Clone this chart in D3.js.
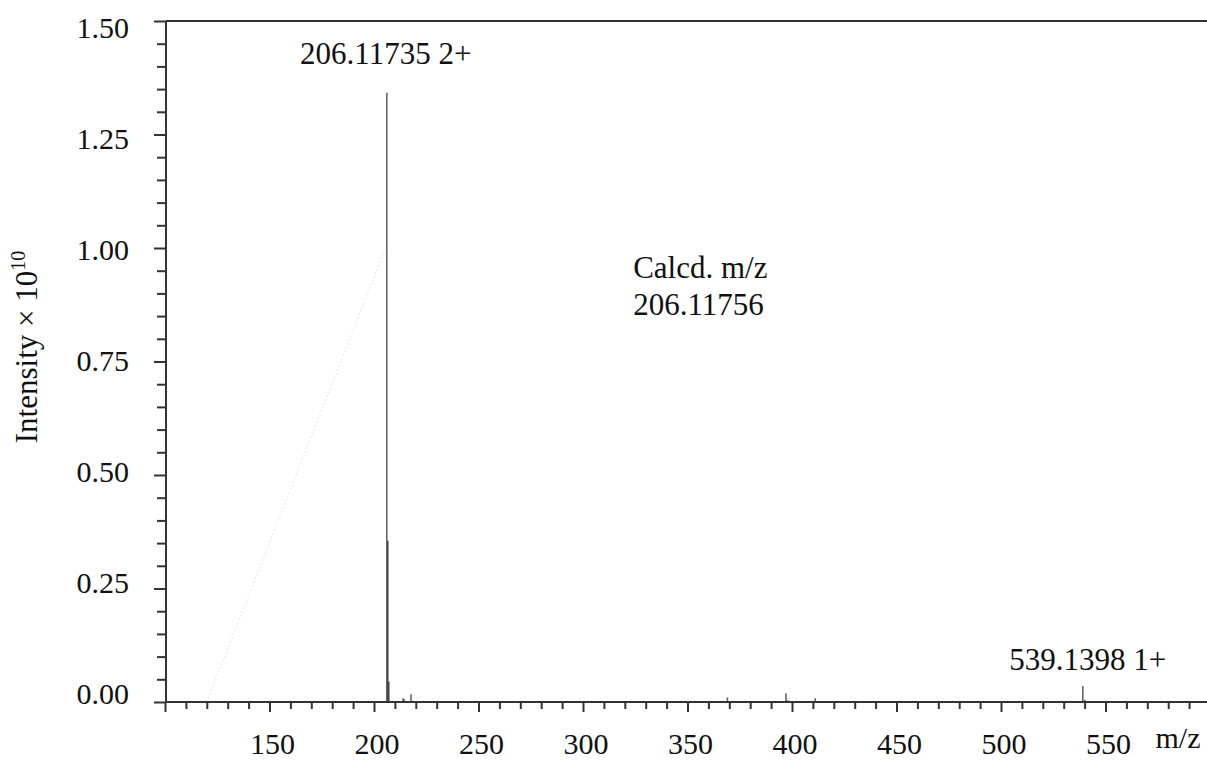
<!DOCTYPE html>
<html>
<head>
<meta charset="utf-8">
<script src="https://cdn.jsdelivr.net/npm/d3@7"></script>
<style>
  html, body { margin: 0; padding: 0; background: #fff; }
  svg { display: block; }
</style>
</head>
<body>
<svg id="chart" width="1207" height="760" font-family="'Liberation Serif', 'Times New Roman', Times, 'DejaVu Serif', serif"></svg>
<script>
// ---- data ----
const peakMz        = [185.4, 192.6, 199.3, 206.117, 206.619, 207.12, 213.9, 214.5, 217.7, 369.1, 383.2, 397.1, 398.0, 411.1, 539.14, 540.14];
const peakIntensity = [0.001, 0.001, 0.001, 1.342,   0.355,   0.045,  0.008, 0.006, 0.017, 0.010, 0.001, 0.019, 0.004, 0.008, 0.035,  0.005];
const xTickMajor = [100, 150, 200, 250, 300, 350, 400, 450, 500, 550];
const xTickLabels = ["", "150", "200", "250", "300", "350", "400", "450", "500", "550"];
const yTickMajor = [0, 0.25, 0.5, 0.75, 1.0, 1.25, 1.5];
const yTickLabels = ["0.00", "0.25", "0.50", "0.75", "1.00", "1.25", "1.50"];
const peakLabels = ["206.11735 2+", "539.1398 1+"];
const peakLabelMz = [206.117, 539.14];
const peakLabelIntensity = [1.342, 0.035];
const calcdLines = ["Calcd. m/z", "206.11756"];
const calcdAnchor = [324, 0.935];
const artifactMz = [120, 205.5];
const artifactIntensity = [0, 1.0];
const xTitle = "m/z";
const yTitle = "Intensity × 10";
const yTitleSup = "10";

// ---- layout ----
const svg = d3.select("#chart");
const x = d3.scaleLinear().domain([100, 600]).range([165, 1210]);
const y = d3.scaleLinear().domain([0, 1.5]).range([702, 21]);
const yLabelPos = d3.scaleLinear().domain([0, 1.5]).range([693, 27.5]);
const axisColor = "#333";
const serif = "'Liberation Serif', 'Times New Roman', Times, 'DejaVu Serif', serif";

// faint artifact line
svg.append("line")
  .attr("x1", x(artifactMz[0])).attr("y1", y(artifactIntensity[0]))
  .attr("x2", x(artifactMz[1])).attr("y2", y(artifactIntensity[1]))
  .attr("stroke", "#e4e4e4").attr("stroke-width", 1.2)
  .attr("stroke-dasharray", "1.5,2.5");

// peaks
svg.append("g").selectAll("line")
  .data(peakMz.map((m, i) => ({ m, v: peakIntensity[i] })))
  .join("line")
  .attr("x1", d => x(d.m)).attr("x2", d => x(d.m))
  .attr("y1", y(0)).attr("y2", d => y(d.v))
  .attr("stroke", "#000")
  .attr("stroke-opacity", 0.6)
  .attr("stroke-width", 1.6);

// y axis ticks
const yMinor = d3.range(0, 1.5001, 0.05).filter(v => Math.abs(Math.round(v / 0.25) * 0.25 - v) > 1e-6);
const gyMin = svg.append("g").attr("transform", "translate(166,0)")
  .call(d3.axisLeft(y).tickValues(yMinor).tickSize(9).tickFormat(""));
const gyMaj = svg.append("g").attr("transform", "translate(166,0)")
  .call(d3.axisLeft(y).tickValues(yTickMajor).tickSize(12).tickFormat(""));
[gyMin, gyMaj].forEach(g => {
  g.select(".domain").remove();
  g.selectAll(".tick line").attr("stroke", axisColor).attr("stroke-width", 2);
});

// x axis ticks
const xMinor = d3.range(110, 600, 10).filter(v => v % 50 !== 0);
const gxMin = svg.append("g").attr("transform", `translate(0,${y(0)})`)
  .call(d3.axisBottom(x).tickValues(xMinor).tickSize(7).tickFormat(""));
const gxMaj = svg.append("g").attr("transform", `translate(0,${y(0)})`)
  .call(d3.axisBottom(x).tickValues(xTickMajor).tickSize(10).tickFormat(""));
[gxMin, gxMaj].forEach(g => {
  g.select(".domain").remove();
  g.selectAll(".tick line").attr("stroke", axisColor).attr("stroke-width", 2);
});

// axis lines
svg.append("line").attr("x1", 166).attr("x2", 166).attr("y1", y(1.5)).attr("y2", y(0))
  .attr("stroke", axisColor).attr("stroke-width", 2);
svg.append("line").attr("x1", x(100)).attr("x2", 1207).attr("y1", y(0)).attr("y2", y(0))
  .attr("stroke", axisColor).attr("stroke-width", 2);
svg.append("line").attr("x1", 166).attr("x2", 1207).attr("y1", y(1.5)).attr("y2", y(1.5))
  .attr("stroke", axisColor).attr("stroke-width", 2);

function txt(sel) {
  return sel.attr("font-family", serif).attr("fill", "#111");
}

// y tick labels
txt(svg.append("g").selectAll("text")
  .data(yTickMajor.map((v, i) => ({ v, t: yTickLabels[i] })))
  .join("text"))
  .attr("x", 129).attr("y", d => yLabelPos(d.v))
  .attr("dy", "0.35em")
  .attr("text-anchor", "end")
  .attr("font-size", 30)
  .text(d => d.t);

// x tick labels
txt(svg.append("g").selectAll("text")
  .data(xTickMajor.map((v, i) => ({ v, t: xTickLabels[i] })))
  .join("text"))
  .attr("x", d => x(d.v) + 3).attr("y", 754)
  .attr("text-anchor", "middle")
  .attr("font-size", 30)
  .text(d => d.t);

// x title
txt(svg.append("text")).attr("x", 1178).attr("y", 748)
  .attr("text-anchor", "middle").attr("font-size", 30).text(xTitle);

// y title
const yt = txt(svg.append("text"))
  .attr("transform", "translate(37,347) rotate(-90)")
  .attr("text-anchor", "middle")
  .attr("font-size", 31);
yt.append("tspan").text(yTitle);
yt.append("tspan").attr("font-size", 20).attr("dy", -12).text(yTitleSup);

// peak labels
txt(svg.append("g").selectAll("text")
  .data(peakLabels.map((t, i) => ({ t, m: peakLabelMz[i], v: peakLabelIntensity[i] })))
  .join("text"))
  .attr("x", (d, i) => x(d.m) + (i === 0 ? -1 : 5))
  .attr("y", (d, i) => y(d.v) - (i === 0 ? 29 : 16))
  .attr("text-anchor", "middle")
  .attr("font-size", 31)
  .text(d => d.t);

// calcd annotation
txt(svg.append("g").selectAll("text")
  .data(calcdLines)
  .join("text"))
  .attr("x", x(calcdAnchor[0]))
  .attr("y", (d, i) => y(calcdAnchor[1]) + i * 37)
  .attr("font-size", 31)
  .text(d => d);
</script>
</body>
</html>
